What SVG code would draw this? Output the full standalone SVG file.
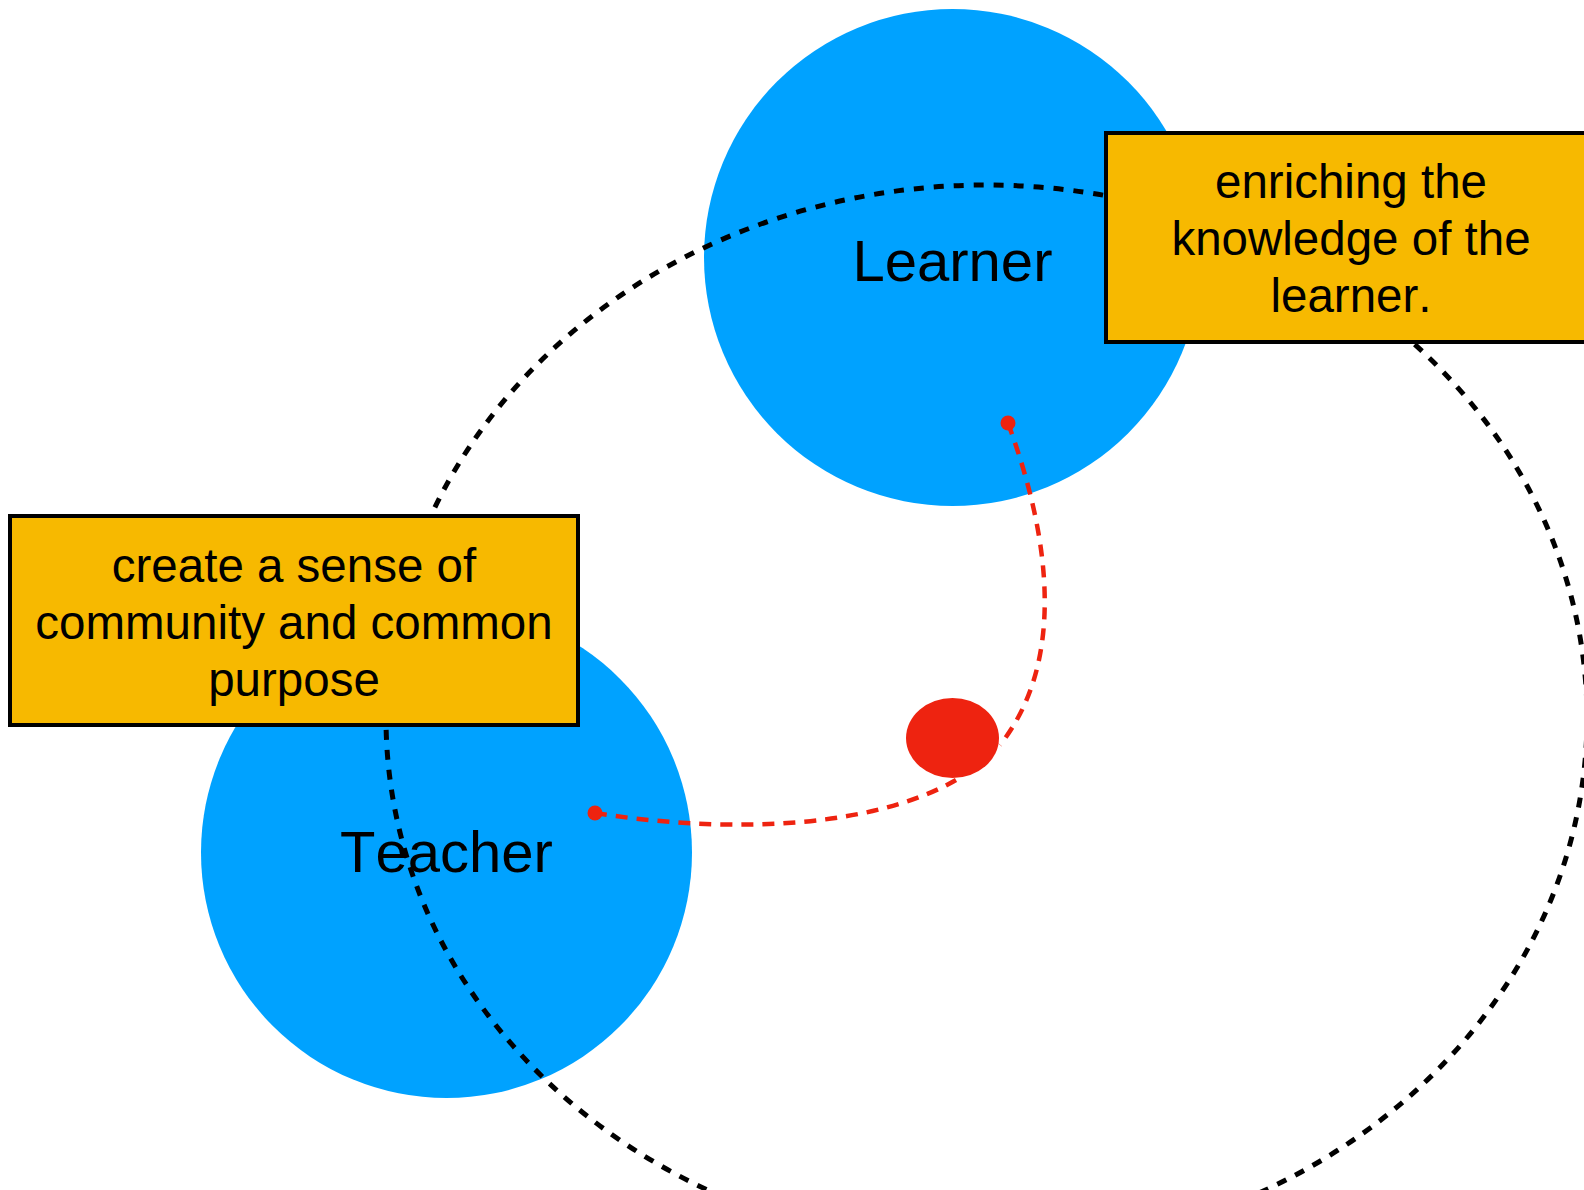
<svg xmlns="http://www.w3.org/2000/svg" width="1584" height="1190" viewBox="0 0 1584 1190">
  <style>
    .actor { fill: #00A2FF; }
    .note { fill: #F7B900; stroke: #000000; stroke-width: 4; }
    .label { font-family: "Liberation Sans", Arial, sans-serif; fill: #000000; text-anchor: middle; font-kerning: none; }
    .big { font-size: 58px; }
    .small { font-size: 47.5px; }
    .orbit { fill: none; stroke: #000000; stroke-width: 5; stroke-dasharray: 10 10; }
    .link { fill: none; stroke: #EE2310; stroke-width: 4.5; stroke-dasharray: 12 9; }
    .red { fill: #EE2310; }
  </style>
  <rect width="1584" height="1190" fill="#FFFFFF"/>
  <g id="learner">
    <circle class="actor" cx="952.5" cy="257.5" r="248.5"/>
  </g>
  <g id="teacher">
    <circle class="actor" cx="446.5" cy="852.5" r="245.5"/>
  </g>
  <g id="connectors">
    <ellipse class="orbit" cx="986.5" cy="718" rx="600.5" ry="533"/>
    <path class="link" d="M1008,423 C1040,510 1075,650 1000,745"/>
    <path class="link" d="M595,813 C700,830 860,835 956,780"/>
    <circle class="red" cx="1008" cy="423" r="7.5"/>
    <circle class="red" cx="595" cy="813" r="7.5"/>
  </g>
  <g id="junction">
    <ellipse class="red" cx="952.5" cy="738" rx="46.5" ry="40"/>
  </g>
  <g id="learner-label">
    <text class="label big" x="952.5" y="281">Learner</text>
  </g>
  <g id="teacher-label">
    <text class="label big" x="446.5" y="872">Teacher</text>
  </g>
  <g id="box-enriching">
    <rect class="note" x="1106" y="133" width="520" height="209"/>
    <text class="label small" x="1351" y="198">enriching the</text>
    <text class="label small" x="1351" y="255">knowledge of the</text>
    <text class="label small" x="1351" y="312">learner.</text>
  </g>
  <g id="box-community">
    <rect class="note" x="10" y="516" width="568" height="209"/>
    <text class="label small" x="294" y="582">create a sense of</text>
    <text class="label small" x="294" y="639">community and common</text>
    <text class="label small" x="294" y="696">purpose</text>
  </g>
</svg>
